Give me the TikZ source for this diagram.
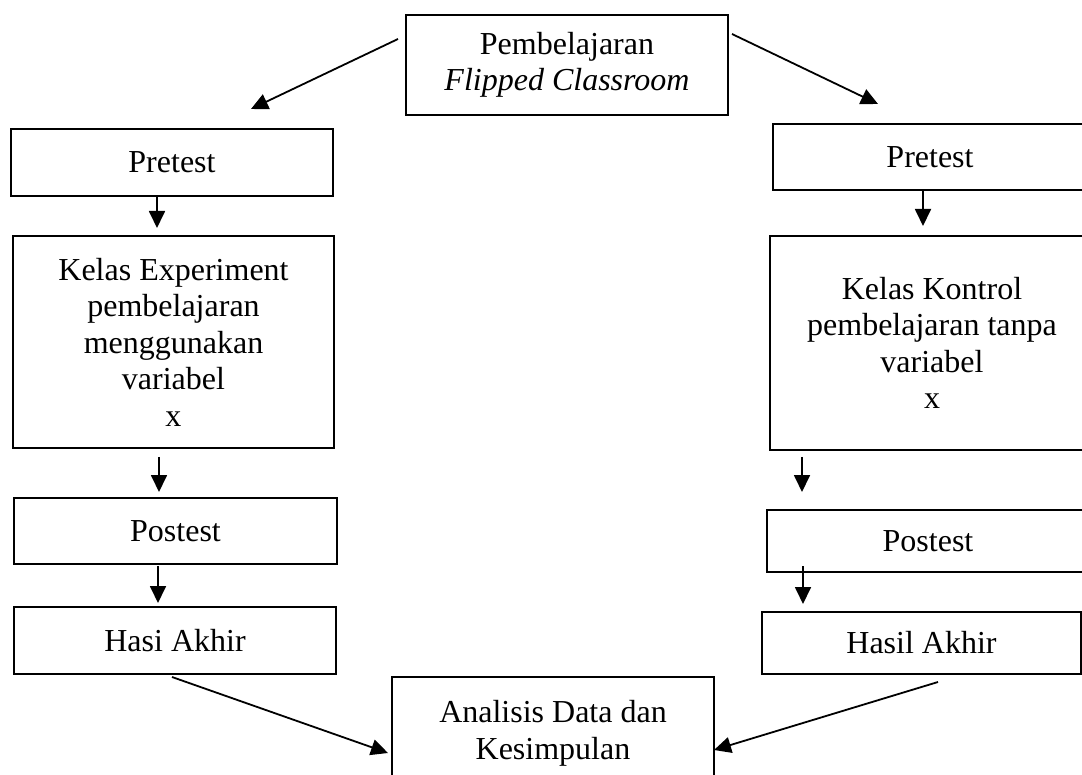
\documentclass[tikz,border=0pt]{standalone}
\usepackage{fontspec}
\setmainfont{Liberation Serif}
\usetikzlibrary{arrows.meta}
\tikzset{
  box/.style={draw=black, line width=1.8pt, fill=none, inner sep=0pt, align=center,
    font=\fontsize{32}{36.5}\selectfont},
  arr/.style={draw=black, line width=1.8pt, -{Triangle[length=17pt,width=16pt]}}
}
\begin{document}
\begin{tikzpicture}[x=1pt,y=-1pt]
\useasboundingbox (0,0) rectangle (1082,775);
\clip (0,0) rectangle (1082,775);
% nodes
\node[box, minimum width=322pt, minimum height=100pt] (top) at (567,65)
  {Pembelajaran\\\textit{Flipped Classroom}};
\node[box, minimum width=322pt, minimum height=67pt] (lpre) at (172,162.5) {Pretest};
\node[box, minimum width=321pt, minimum height=212pt] (lexp) at (173.5,342)
  {Kelas Experiment\\pembelajaran\\menggunakan\\variabel\\x};
\node[box, minimum width=323pt, minimum height=66pt] (lpost) at (175.5,531) {Postest};
\node[box, minimum width=322pt, minimum height=67pt] (lhasil) at (175,640.5) {Hasi Akhir};
\node[box, minimum width=314pt, minimum height=66pt] (rpre) at (930,157) {Pretest};
\node[box, minimum width=324pt, minimum height=214pt] (rkon) at (932,343)
  {Kelas Kontrol\\pembelajaran tanpa\\variabel\\x};
\node[box, minimum width=322pt, minimum height=62pt] (rpost) at (928,541) {Postest};
\node[box, minimum width=319pt, minimum height=62pt] (rhasil) at (921.5,643) {Hasil Akhir};
\node[box, minimum width=322pt, minimum height=113pt] (anal) at (553,733.5)
  {Analisis Data dan\\Kesimpulan};
% connector end points
\coordinate (t1s) at (398,39);   \coordinate (t1e) at (251,109);
\coordinate (t2s) at (732,34);   \coordinate (t2e) at (878,104);
\coordinate (l1s) at (157,196);  \coordinate (l1e) at (157,228);
\coordinate (l2s) at (159,457);  \coordinate (l2e) at (159,492);
\coordinate (l3s) at (158,566);  \coordinate (l3e) at (158,603);
\coordinate (r1s) at (923,190);  \coordinate (r1e) at (923,226);
\coordinate (r2s) at (802,457);  \coordinate (r2e) at (802,492);
\coordinate (r3s) at (803,566);  \coordinate (r3e) at (803,604);
\coordinate (b1s) at (172,677);  \coordinate (b1e) at (388,753);
\coordinate (b2s) at (938,682);  \coordinate (b2e) at (714,750);
% connectors
\draw[arr] (t1s) -- (t1e);
\draw[arr] (t2s) -- (t2e);
\draw[arr] (l1s) -- (l1e);
\draw[arr] (l2s) -- (l2e);
\draw[arr] (l3s) -- (l3e);
\draw[arr] (r1s) -- (r1e);
\draw[arr] (r2s) -- (r2e);
\draw[arr] (r3s) -- (r3e);
\draw[arr] (b1s) -- (b1e);
\draw[arr] (b2s) -- (b2e);
\end{tikzpicture}
\end{document}
